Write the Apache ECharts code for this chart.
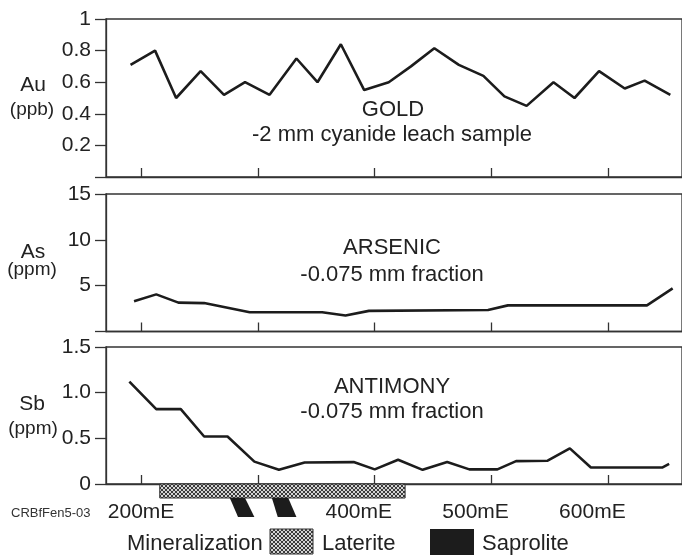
<!DOCTYPE html>
<html><head><meta charset="utf-8">
<script src="https://cdn.jsdelivr.net/npm/echarts@6/dist/echarts.min.js"></script>
<style>html,body{margin:0;padding:0;background:#fff}#c{width:682px;height:555px}</style>
</head><body><div id="c"></div>
<script>
// ---- data ----
const auX = [191, 212, 230, 251, 271, 289, 310, 333, 351, 371, 391, 412, 431, 451, 472, 493, 511, 530, 553, 571, 592, 614, 631, 653];
const auY = [0.71, 0.80, 0.50, 0.67, 0.52, 0.60, 0.52, 0.75, 0.60, 0.84, 0.55, 0.60, 0.70, 0.815, 0.71, 0.64, 0.51, 0.45, 0.60, 0.50, 0.67, 0.56, 0.61, 0.52];
const asX = [194, 213, 232, 254, 293, 355, 375, 395, 497, 514, 633, 655];
const asY = [3.3, 4.05, 3.15, 3.1, 2.1, 2.1, 1.75, 2.25, 2.35, 2.85, 2.85, 4.7];
const sbX = [190, 213, 234, 254, 274, 297, 318, 340, 382, 400, 420, 441, 462, 481, 505, 521, 548, 567, 585, 646, 652];
const sbY = [1.12, 0.82, 0.82, 0.52, 0.52, 0.245, 0.155, 0.235, 0.24, 0.16, 0.265, 0.155, 0.24, 0.16, 0.16, 0.25, 0.255, 0.39, 0.18, 0.18, 0.22];
const xTickValues = [200, 300, 400, 500, 600];
const xLabelValues = [200, 400, 500, 600];
const lateriteRange = [[216, 426]];
// saprolite: [topLeft, topRight, bottomRight, bottomLeft] in mE
const saprolite = [[276, 289, 297, 283], [312, 326, 333, 317]];

// ---- chart ----
const FONT = "'Liberation Sans', Arial, Helvetica, sans-serif";
const INK = '#222';
const AX = '#333';

const pc = document.createElement('canvas');
pc.width = 4; pc.height = 4;
const px = pc.getContext('2d');
px.fillStyle = '#d4d4d4'; px.fillRect(0, 0, 4, 4);
px.strokeStyle = '#3a3a3a'; px.lineWidth = 1;
px.beginPath(); px.moveTo(0, 0); px.lineTo(4, 4); px.moveTo(0, 4); px.lineTo(4, 0); px.stroke();
const hatch = { image: pc, repeat: 'repeat' };

const chart = echarts.init(document.getElementById('c'), null, { renderer: 'canvas' });

const grids = [
  { left: 106, right: -10, top: 19, height: 158 },
  { left: 106, right: -10, top: 194, height: 137.5 },
  { left: 106, right: -10, top: 347, height: 137 }
].map(g => Object.assign(g, { show: true, borderColor: AX, borderWidth: 1.3, backgroundColor: 'transparent' }));

function xa(gi, showLabels) {
  return {
    type: 'value', gridIndex: gi, min: 170, max: 663,
    axisLine: { show: true, lineStyle: { color: AX, width: 1.3 } },
    axisTick: { show: true, inside: true, length: 9, customValues: xTickValues, lineStyle: { color: AX, width: 1.3 } },
    splitLine: { show: false },
    axisLabel: {
      show: showLabels, customValues: xLabelValues, margin: 18,
      formatter: v => v === 200 ? '{a|200mE}' : '{b|' + v + 'mE}',
      rich: {
        a: { fontFamily: FONT, fontSize: 21, color: INK },
        b: { fontFamily: FONT, fontSize: 21, color: INK, padding: [0, 32, 0, 0] }
      }
    }
  };
}
function ya(gi, max, interval, fmt) {
  return {
    type: 'value', gridIndex: gi, min: 0, max: max, interval: interval,
    axisLine: { show: true, lineStyle: { color: AX, width: 1.3 } },
    axisTick: { show: true, inside: false, length: 11, lineStyle: { color: AX, width: 1.3 } },
    splitLine: { show: false },
    axisLabel: { fontFamily: FONT, fontSize: 21, color: INK, margin: 15, formatter: fmt }
  };
}
function lineSeries(i, xs, ys) {
  return {
    type: 'line', xAxisIndex: i, yAxisIndex: i, symbol: 'none', animation: false,
    lineStyle: { color: '#1c1c1c', width: 2.6 },
    data: xs.map((x, k) => [x, ys[k]])
  };
}
function txt(x, y, s, size, align) {
  return { type: 'text', x: x, y: y, style: { text: s, fontFamily: FONT, fontSize: size, fill: INK, textAlign: align || 'center', textVerticalAlign: 'middle' } };
}

chart.setOption({
  animation: false,
  grid: grids,
  xAxis: [xa(0, false), xa(1, false), xa(2, true)],
  yAxis: [
    ya(0, 1, 0.2, v => v === 0 ? '' : String(+v.toFixed(1))),
    ya(1, 15, 5, v => v === 0 ? '' : String(v)),
    ya(2, 1.5, 0.5, v => v === 0 ? '0' : v.toFixed(1))
  ],
  series: [
    lineSeries(0, auX, auY),
    lineSeries(1, asX, asY),
    lineSeries(2, sbX, sbY),
    {
      type: 'custom', xAxisIndex: 2, yAxisIndex: 2, clip: false, z: 5,
      data: lateriteRange,
      renderItem: (params, api) => {
        const a = api.coord([api.value(0), 0]);
        const b = api.coord([api.value(1), 0]);
        return { type: 'rect', shape: { x: a[0], y: a[1], width: b[0] - a[0], height: 14 },
          style: { fill: hatch, stroke: '#333', lineWidth: 1 } };
      }
    },
    {
      type: 'custom', xAxisIndex: 2, yAxisIndex: 2, clip: false, z: 5,
      data: saprolite,
      renderItem: (params, api) => {
        const y0 = api.coord([200, 0])[1] + 14;
        const y1 = y0 + 19;
        const p = k => api.coord([api.value(k), 0])[0];
        return { type: 'polygon', shape: { points: [[p(0), y0], [p(1), y0], [p(2), y1], [p(3), y1]] },
          style: { fill: '#1c1c1c' } };
      }
    }
  ],
  graphic: [
    txt(33, 85, 'Au', 21), txt(32, 110, '(ppb)', 19),
    txt(33, 252, 'As', 21), txt(32, 270, '(ppm)', 19),
    txt(32, 404, 'Sb', 21), txt(33, 429, '(ppm)', 19),
    txt(393, 110, 'GOLD', 22), txt(392, 135, '-2 mm cyanide leach sample', 22),
    txt(392, 248, 'ARSENIC', 22), txt(392, 275, '-0.075 mm fraction', 22),
    txt(392, 387, 'ANTIMONY', 22), txt(392, 412, '-0.075 mm fraction', 22),
    { type: 'text', x: 11, y: 513, style: { text: 'CRBfFen5-03', fontFamily: "'Liberation Sans Narrow', " + FONT, fontSize: 13, fill: '#333', textAlign: 'left', textVerticalAlign: 'middle' } },
    txt(127, 544, 'Mineralization', 22, 'left'),
    { type: 'rect', shape: { x: 270, y: 529, width: 43, height: 25 }, style: { fill: hatch, stroke: '#333', lineWidth: 1 } },
    txt(322, 544, 'Laterite', 22, 'left'),
    { type: 'rect', shape: { x: 430, y: 529, width: 44, height: 26 }, style: { fill: '#1c1c1c' } },
    txt(482, 544, 'Saprolite', 22, 'left')
  ]
});
</script></body></html>
